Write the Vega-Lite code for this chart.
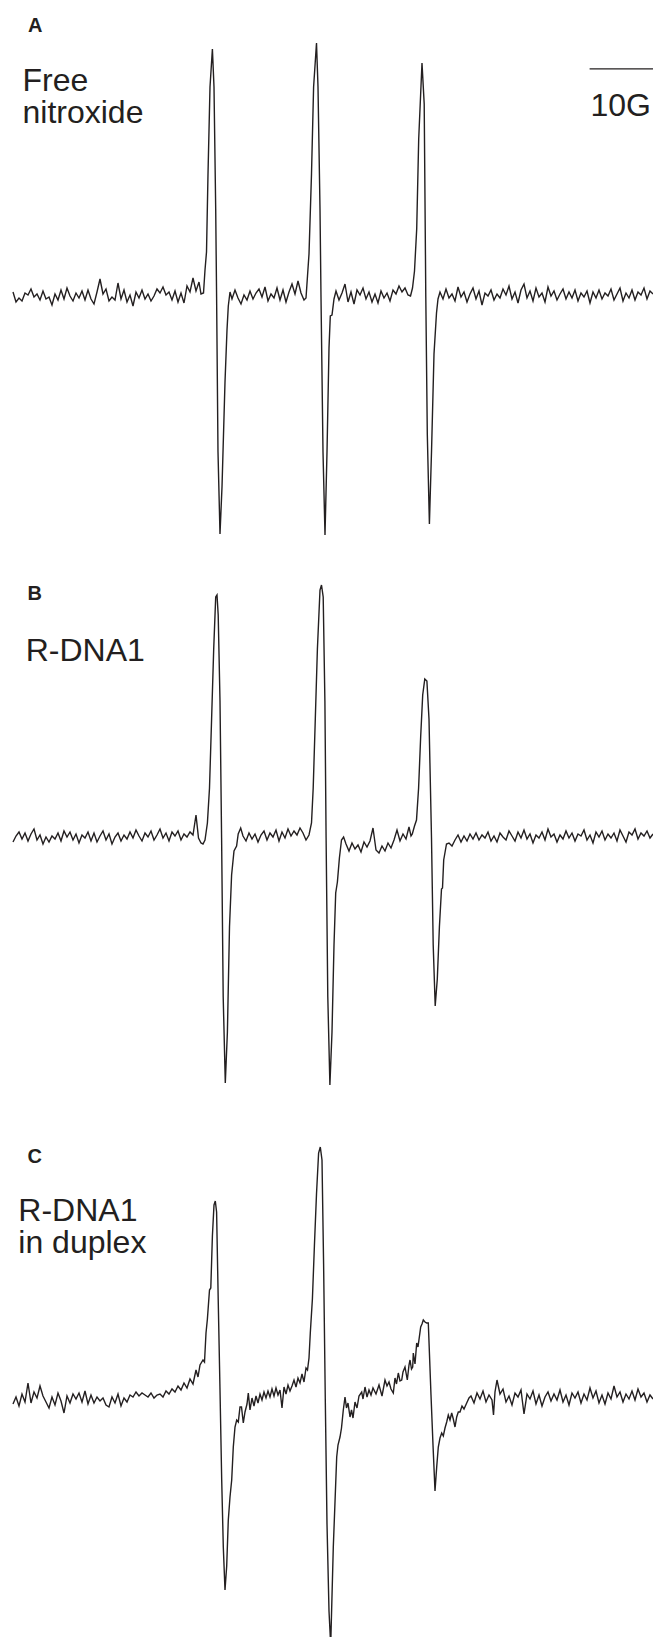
{
"$schema": "https://vega.github.io/schema/vega-lite/v6.json",
"padding": 0,
"spacing": 0,
"bounds": "flush",
"background": "white",
"config": {"view": {"stroke": null}, "concat": {"spacing": 0}},
"resolve": {"scale": {"x": "independent", "y": "independent"}},
"datasets": {
"A": [
{"x":13,"y":4},{"x":16,"y":-6},{"x":19,"y":-2},{"x":22,"y":-5},{"x":25,"y":3},{"x":28,"y":1},{"x":31,"y":7},{"x":34,"y":-1},{"x":37,"y":2},{"x":40,"y":-4},{"x":43,"y":5},{"x":46,"y":-3},{"x":49,"y":-1},{"x":52,"y":-9},{"x":55,"y":2},{"x":58,"y":-4},{"x":61,"y":6},{"x":64,"y":-3},{"x":67,"y":8},{"x":70,"y":0},{"x":73,"y":-5},{"x":76,"y":3},{"x":79,"y":-2},{"x":82,"y":5},{"x":85,"y":-4},{"x":88,"y":6},{"x":91,"y":-3},{"x":94,"y":-8},{"x":97,"y":4},{"x":100,"y":17},{"x":103,"y":2},{"x":106,"y":7},{"x":109,"y":-5},{"x":112,"y":-1},{"x":115,"y":-4},{"x":118,"y":13},{"x":121,"y":-3},{"x":124,"y":6},{"x":127,"y":-6},{"x":130,"y":1},{"x":133,"y":-10},{"x":136,"y":4},{"x":139,"y":-2},{"x":142,"y":6},{"x":145,"y":-3},{"x":148,"y":2},{"x":151,"y":-5},{"x":154,"y":0},{"x":157,"y":7},{"x":160,"y":3},{"x":163,"y":9},{"x":166,"y":1},{"x":169,"y":4},{"x":172,"y":-4},{"x":175,"y":5},{"x":178,"y":-6},{"x":181,"y":3},{"x":184,"y":-7},{"x":187,"y":10},{"x":190,"y":4},{"x":193,"y":18},{"x":196,"y":5},{"x":199,"y":14},{"x":201,"y":2},{"x":203.5,"y":3},
{"x":205,"y":26},{"x":206.5,"y":44},{"x":208,"y":122},{"x":210,"y":209},{"x":212.4,"y":247},{"x":214,"y":209},{"x":215.7,"y":87},{"x":216.6,"y":-1},{"x":218,"y":-156},{"x":220,"y":-238},{"x":222,"y":-191},{"x":225,"y":-86},{"x":227,"y":-34},{"x":228.3,"y":-10},{"x":230,"y":4},
{"x":232,"y":-3},{"x":235,"y":6},{"x":238,"y":-2},{"x":241,"y":-8},{"x":244,"y":1},{"x":247,"y":-4},{"x":250,"y":5},{"x":253,"y":-3},{"x":256,"y":3},{"x":259,"y":7},{"x":262,"y":-1},{"x":265,"y":9},{"x":268,"y":-5},{"x":271,"y":2},{"x":274,"y":-2},{"x":277,"y":8},{"x":280,"y":-4},{"x":283,"y":6},{"x":286,"y":-6},{"x":289,"y":4},{"x":292,"y":12},{"x":295,"y":2},{"x":298,"y":15},{"x":301,"y":3},{"x":304,"y":-4},{"x":306,"y":-2},
{"x":307.5,"y":20},{"x":309,"y":42},{"x":311.5,"y":122},{"x":313.6,"y":209},{"x":316.5,"y":253},{"x":318,"y":209},{"x":320,"y":87},{"x":321,"y":-1},{"x":323,"y":-156},{"x":325,"y":-239},{"x":327,"y":-156},{"x":329,"y":-52},{"x":330.3,"y":-20},{"x":332,"y":-19},{"x":334,"y":-3},
{"x":336,"y":5},{"x":339,"y":-4},{"x":342,"y":3},{"x":345,"y":12},{"x":348,"y":-6},{"x":351,"y":4},{"x":354,"y":-8},{"x":357,"y":6},{"x":360,"y":1},{"x":363,"y":8},{"x":366,"y":-3},{"x":369,"y":4},{"x":372,"y":-6},{"x":375,"y":2},{"x":378,"y":-7},{"x":381,"y":5},{"x":384,"y":-2},{"x":387,"y":3},{"x":390,"y":-5},{"x":393,"y":6},{"x":396,"y":2},{"x":399,"y":10},{"x":402,"y":4},{"x":405,"y":8},{"x":408,"y":1},{"x":410.5,"y":0},
{"x":412.5,"y":8},{"x":414.5,"y":25},{"x":416.7,"y":67},{"x":418.7,"y":157},{"x":422,"y":233},{"x":424.2,"y":192},{"x":425.8,"y":-1},{"x":427.3,"y":-138},{"x":429.4,"y":-228},{"x":431.5,"y":-156},{"x":434,"y":-58},{"x":436.5,"y":-17},{"x":438,"y":-3},
{"x":440,"y":4},{"x":443,"y":-3},{"x":446,"y":7},{"x":449,"y":-2},{"x":452,"y":2},{"x":455,"y":-5},{"x":458,"y":9},{"x":461,"y":-1},{"x":464,"y":4},{"x":467,"y":-6},{"x":470,"y":2},{"x":473,"y":8},{"x":476,"y":-3},{"x":479,"y":5},{"x":482,"y":-9},{"x":485,"y":3},{"x":488,"y":0},{"x":491,"y":6},{"x":494,"y":-4},{"x":497,"y":2},{"x":500,"y":-2},{"x":503,"y":7},{"x":506,"y":1},{"x":509,"y":10},{"x":512,"y":-3},{"x":515,"y":4},{"x":518,"y":-7},{"x":521,"y":6},{"x":524,"y":12},{"x":527,"y":-2},{"x":530,"y":5},{"x":533,"y":-5},{"x":536,"y":8},{"x":539,"y":-1},{"x":542,"y":3},{"x":545,"y":-6},{"x":548,"y":9},{"x":551,"y":0},{"x":554,"y":5},{"x":557,"y":-4},{"x":560,"y":2},{"x":563,"y":7},{"x":566,"y":-3},{"x":569,"y":4},{"x":572,"y":-2},{"x":575,"y":6},{"x":578,"y":-5},{"x":581,"y":3},{"x":584,"y":-1},{"x":587,"y":5},{"x":590,"y":-7},{"x":593,"y":4},{"x":596,"y":-2},{"x":599,"y":6},{"x":602,"y":-3},{"x":605,"y":3},{"x":608,"y":0},{"x":611,"y":7},{"x":614,"y":-4},{"x":617,"y":2},{"x":620,"y":8},{"x":623,"y":-5},{"x":626,"y":3},{"x":629,"y":-2},{"x":632,"y":6},{"x":635,"y":-4},{"x":638,"y":4},{"x":641,"y":1},{"x":644,"y":8},{"x":647,"y":-3},{"x":650,"y":5},{"x":653,"y":2}
],
"B": [
{"x":13,"y":-4},{"x":16,"y":2},{"x":19,"y":6},{"x":22,"y":-1},{"x":25,"y":5},{"x":28,"y":-3},{"x":31,"y":4},{"x":34,"y":9},{"x":37,"y":-2},{"x":40,"y":3},{"x":43,"y":-6},{"x":46,"y":1},{"x":49,"y":-4},{"x":52,"y":2},{"x":55,"y":-1},{"x":58,"y":5},{"x":61,"y":-3},{"x":64,"y":7},{"x":67,"y":1},{"x":70,"y":6},{"x":73,"y":-2},{"x":76,"y":4},{"x":79,"y":-5},{"x":82,"y":3},{"x":85,"y":0},{"x":88,"y":6},{"x":91,"y":-3},{"x":94,"y":5},{"x":97,"y":-4},{"x":100,"y":2},{"x":103,"y":7},{"x":106,"y":-2},{"x":109,"y":4},{"x":112,"y":-6},{"x":115,"y":1},{"x":118,"y":5},{"x":121,"y":-3},{"x":124,"y":3},{"x":127,"y":-1},{"x":130,"y":6},{"x":133,"y":0},{"x":136,"y":8},{"x":139,"y":2},{"x":142,"y":-3},{"x":145,"y":5},{"x":148,"y":1},{"x":151,"y":7},{"x":154,"y":-2},{"x":157,"y":3},{"x":160,"y":9},{"x":163,"y":0},{"x":166,"y":5},{"x":169,"y":-3},{"x":172,"y":6},{"x":175,"y":2},{"x":178,"y":7},{"x":181,"y":-2},{"x":184,"y":4},{"x":187,"y":1},{"x":190,"y":6},{"x":193,"y":3},{"x":196,"y":23},{"x":198.5,"y":0},{"x":201,"y":-5},{"x":203,"y":-6},
{"x":205,"y":-2},{"x":207.4,"y":15},{"x":209.5,"y":50},{"x":211.6,"y":119},{"x":213.7,"y":189},{"x":215.7,"y":241},{"x":217,"y":243},{"x":218.2,"y":223},{"x":220,"y":137},{"x":221.6,"y":0},{"x":223.2,"y":-159},{"x":225.3,"y":-245},{"x":227.4,"y":-194},{"x":229.5,"y":-89},{"x":231.6,"y":-37},{"x":234,"y":-13},{"x":236.6,"y":-8},{"x":238.2,"y":4},{"x":240.7,"y":10},
{"x":243,"y":2},{"x":246,"y":-3},{"x":249,"y":5},{"x":252,"y":-1},{"x":255,"y":4},{"x":258,"y":-4},{"x":261,"y":3},{"x":264,"y":7},{"x":267,"y":-2},{"x":270,"y":5},{"x":273,"y":1},{"x":276,"y":8},{"x":279,"y":-3},{"x":282,"y":6},{"x":285,"y":0},{"x":288,"y":9},{"x":291,"y":2},{"x":294,"y":7},{"x":297,"y":3},{"x":300,"y":10},{"x":303,"y":5},{"x":306,"y":-2},{"x":309,"y":3},
{"x":311.5,"y":15},{"x":313.2,"y":50},{"x":315.3,"y":119},{"x":317.4,"y":189},{"x":320,"y":248},{"x":321.5,"y":253},{"x":323.2,"y":241},{"x":324.9,"y":137},{"x":326.1,"y":0},{"x":327.8,"y":-159},{"x":329.9,"y":-247},{"x":332,"y":-194},{"x":334,"y":-107},{"x":335.7,"y":-55},{"x":337.4,"y":-44},{"x":339.4,"y":-20},{"x":341.5,"y":-2},{"x":343.6,"y":1},
{"x":346,"y":-6},{"x":349,"y":-13},{"x":352,"y":-5},{"x":355,"y":-11},{"x":358,"y":-7},{"x":361,"y":-14},{"x":364,"y":-4},{"x":367,"y":-9},{"x":370,"y":-3},{"x":373,"y":10},{"x":376,"y":-12},{"x":379,"y":-15},{"x":382,"y":-8},{"x":385,"y":-13},{"x":388,"y":-5},{"x":391,"y":-10},{"x":394,"y":-2},{"x":397,"y":8},{"x":400,"y":-3},{"x":403,"y":4},{"x":406,"y":-1},{"x":409,"y":11},{"x":411,"y":2},
{"x":412.3,"y":4},{"x":414.5,"y":12},{"x":416.5,"y":18},{"x":418.6,"y":50},{"x":420.7,"y":102},{"x":422.7,"y":143},{"x":424.8,"y":159},{"x":426.9,"y":157},{"x":429,"y":119},{"x":431.5,"y":0},{"x":433.2,"y":-107},{"x":435.2,"y":-168},{"x":437.3,"y":-141},{"x":439.4,"y":-89},{"x":441.5,"y":-51},{"x":442.5,"y":-50},{"x":443.7,"y":-22},{"x":446.5,"y":-6},{"x":449,"y":-5},
{"x":452,"y":-8},{"x":455,"y":-2},{"x":458,"y":3},{"x":461,"y":-4},{"x":464,"y":2},{"x":467,"y":-3},{"x":470,"y":4},{"x":473,"y":-1},{"x":476,"y":5},{"x":479,"y":-2},{"x":482,"y":3},{"x":485,"y":0},{"x":488,"y":6},{"x":491,"y":-3},{"x":494,"y":2},{"x":497,"y":-4},{"x":500,"y":5},{"x":503,"y":1},{"x":506,"y":-2},{"x":509,"y":7},{"x":512,"y":2},{"x":515,"y":-3},{"x":518,"y":6},{"x":521,"y":0},{"x":524,"y":8},{"x":527,"y":-1},{"x":530,"y":4},{"x":533,"y":-5},{"x":536,"y":3},{"x":539,"y":0},{"x":542,"y":6},{"x":545,"y":-2},{"x":548,"y":9},{"x":551,"y":1},{"x":554,"y":4},{"x":557,"y":-4},{"x":560,"y":3},{"x":563,"y":-1},{"x":566,"y":7},{"x":569,"y":0},{"x":572,"y":5},{"x":575,"y":-3},{"x":578,"y":4},{"x":581,"y":2},{"x":584,"y":8},{"x":587,"y":-2},{"x":590,"y":3},{"x":593,"y":-5},{"x":596,"y":6},{"x":599,"y":1},{"x":602,"y":7},{"x":605,"y":-2},{"x":608,"y":4},{"x":611,"y":0},{"x":614,"y":5},{"x":617,"y":-3},{"x":620,"y":8},{"x":623,"y":2},{"x":626,"y":-4},{"x":629,"y":6},{"x":632,"y":3},{"x":635,"y":9},{"x":638,"y":-1},{"x":641,"y":5},{"x":644,"y":2},{"x":647,"y":7},{"x":650,"y":0},{"x":653,"y":4}
],
"C": [
{"x":13,"y":-4},{"x":16,"y":3},{"x":19,"y":-6},{"x":22,"y":6},{"x":25,"y":-2},{"x":28,"y":17},{"x":31,"y":-3},{"x":34,"y":8},{"x":37,"y":2},{"x":40,"y":14},{"x":43,"y":4},{"x":46,"y":-2},{"x":49,"y":-8},{"x":52,"y":3},{"x":55,"y":-5},{"x":58,"y":7},{"x":61,"y":-1},{"x":64,"y":-13},{"x":67,"y":4},{"x":70,"y":-3},{"x":73,"y":6},{"x":76,"y":1},{"x":79,"y":7},{"x":82,"y":-2},{"x":85,"y":9},{"x":88,"y":-4},{"x":91,"y":5},{"x":94,"y":-3},{"x":97,"y":3},{"x":100,"y":-1},{"x":103,"y":2},{"x":106,"y":-5},{"x":109,"y":-7},{"x":112,"y":3},{"x":115,"y":-3},{"x":118,"y":6},{"x":121,"y":-6},{"x":124,"y":2},{"x":127,"y":-2},{"x":130,"y":5},{"x":133,"y":3},{"x":136,"y":8},{"x":139,"y":4},{"x":142,"y":7},{"x":145,"y":5},{"x":148,"y":3},{"x":151,"y":7},{"x":154,"y":2},{"x":157,"y":5},{"x":160,"y":6},{"x":163,"y":3},{"x":166,"y":9},{"x":169,"y":6},{"x":172,"y":11},{"x":175,"y":8},{"x":178,"y":14},{"x":181,"y":10},{"x":184,"y":17},{"x":187,"y":12},{"x":190,"y":21},{"x":193,"y":16},{"x":196,"y":30},{"x":198,"y":23},{"x":200,"y":35},{"x":203,"y":40},
{"x":204.5,"y":38},{"x":206,"y":67},{"x":207.4,"y":81},{"x":209.5,"y":110},{"x":210.8,"y":112},{"x":212.4,"y":164},{"x":214,"y":195},{"x":215.3,"y":199},{"x":216.6,"y":188},{"x":218.2,"y":101},{"x":220,"y":10},{"x":221.7,"y":-80},{"x":223.3,"y":-147},{"x":225,"y":-190},{"x":226.7,"y":-166},{"x":228.3,"y":-120},{"x":230,"y":-97},{"x":231.7,"y":-80},{"x":233.3,"y":-47},{"x":235,"y":-27},{"x":236.7,"y":-20},{"x":238.3,"y":-22},{"x":240,"y":-7},
{"x":241.5,"y":-7},{"x":243.3,"y":-23},{"x":245,"y":-12},{"x":247,"y":-4},{"x":248.3,"y":7},{"x":250,"y":-10},{"x":252,"y":2},{"x":254,"y":-6},{"x":256,"y":4},{"x":258,"y":-3},{"x":260,"y":6},{"x":262,"y":0},{"x":264,"y":8},{"x":266,"y":2},{"x":268,"y":9},{"x":270,"y":3},{"x":272,"y":11},{"x":274,"y":4},{"x":276,"y":12},{"x":278,"y":5},{"x":280,"y":10},{"x":282,"y":-8},{"x":284,"y":13},{"x":286,"y":6},{"x":288,"y":15},{"x":290,"y":9},{"x":292,"y":14},{"x":294,"y":20},{"x":296,"y":13},{"x":298,"y":22},{"x":300,"y":17},{"x":302,"y":26},{"x":304,"y":18},{"x":306,"y":32},{"x":307.5,"y":30},{"x":309,"y":42},
{"x":310.3,"y":67},{"x":312.4,"y":101},{"x":314.4,"y":154},{"x":316.5,"y":206},{"x":318.6,"y":247},{"x":320.3,"y":253},{"x":322,"y":240},{"x":323.6,"y":136},{"x":325.3,"y":0},{"x":327,"y":-124},{"x":329,"y":-211},{"x":330.7,"y":-245},{"x":333.3,"y":-147},{"x":336.7,"y":-57},{"x":338,"y":-45},{"x":340,"y":-37},{"x":341.5,"y":-28},{"x":343.3,"y":-10},{"x":345,"y":3},{"x":346.5,"y":-8},{"x":348,"y":-3},{"x":350,"y":-17},{"x":351.5,"y":-10},{"x":353,"y":-18},{"x":355,"y":-2},{"x":357,"y":-8},{"x":359,"y":4},{"x":361.7,"y":8},{"x":363,"y":1},{"x":365,"y":13},{"x":367,"y":3},{"x":369,"y":10},{"x":371,"y":5},
{"x":373,"y":12},{"x":376,"y":6},{"x":379,"y":15},{"x":382,"y":4},{"x":385,"y":20},{"x":387,"y":14},{"x":389,"y":18},{"x":391,"y":11},{"x":393.3,"y":7},{"x":395,"y":22},{"x":396.5,"y":16},{"x":398.3,"y":27},{"x":400,"y":19},{"x":401.7,"y":20},{"x":403,"y":28},{"x":405,"y":33},{"x":407.3,"y":20},{"x":409,"y":35},{"x":410,"y":40},{"x":411.5,"y":31},{"x":412.7,"y":33},{"x":413.3,"y":47},{"x":415,"y":36},{"x":416.7,"y":57},{"x":418,"y":53},{"x":420.7,"y":73},{"x":422,"y":76},{"x":423.3,"y":80},{"x":425,"y":78},{"x":426.7,"y":77},{"x":428.3,"y":77},{"x":431,"y":5},{"x":433,"y":-45},{"x":435,"y":-91},{"x":436.7,"y":-67},{"x":438.3,"y":-47},{"x":440,"y":-38},{"x":441.7,"y":-33},{"x":443.3,"y":-36},{"x":445,"y":-28},{"x":446.7,"y":-22},{"x":448.3,"y":-15},{"x":450,"y":-20},{"x":451.7,"y":-13},{"x":453.3,"y":-19},{"x":455,"y":-27},{"x":456.7,"y":-17},{"x":458.3,"y":-12},{"x":460,"y":-12},{"x":462,"y":-6},{"x":464,"y":-9},{"x":466.7,"y":-3},{"x":469,"y":2},
{"x":471,"y":4},{"x":474,"y":-3},{"x":477,"y":7},{"x":480,"y":1},{"x":483,"y":9},{"x":486,"y":-2},{"x":489,"y":5},{"x":492,"y":0},{"x":493.5,"y":-15},{"x":495,"y":8},{"x":497,"y":20},{"x":500,"y":6},{"x":503,"y":11},{"x":506,"y":-2},{"x":509,"y":4},{"x":512,"y":-5},{"x":515,"y":7},{"x":518,"y":3},{"x":521,"y":10},{"x":524,"y":-14},{"x":527,"y":6},{"x":530,"y":1},{"x":533,"y":9},{"x":536,"y":-4},{"x":539,"y":5},{"x":542,"y":-6},{"x":545,"y":3},{"x":548,"y":8},{"x":551,"y":-1},{"x":554,"y":6},{"x":557,"y":0},{"x":560,"y":10},{"x":563,"y":-2},{"x":566,"y":5},{"x":569,"y":-5},{"x":572,"y":7},{"x":575,"y":2},{"x":578,"y":8},{"x":581,"y":-3},{"x":584,"y":6},{"x":587,"y":0},{"x":590,"y":12},{"x":593,"y":2},{"x":596,"y":9},{"x":599,"y":-3},{"x":602,"y":5},{"x":605,"y":-4},{"x":608,"y":7},{"x":611,"y":1},{"x":614,"y":14},{"x":617,"y":3},{"x":620,"y":8},{"x":623,"y":-2},{"x":626,"y":6},{"x":629,"y":1},{"x":632,"y":9},{"x":635,"y":0},{"x":638,"y":11},{"x":641,"y":3},{"x":644,"y":7},{"x":647,"y":-2},{"x":650,"y":5},{"x":653,"y":1}
]
},
"vconcat": [
{
"width": 653, "height": 545,
"encoding": {
"x": {"field": "x", "type": "quantitative", "scale": {"domain": [0, 653], "nice": false, "zero": false}, "axis": null},
"y": {"field": "y", "type": "quantitative", "scale": {"domain": [-249, 296], "nice": false, "zero": false}, "axis": null}
},
"layer": [
{"data": {"name": "A"}, "mark": {"type": "line", "stroke": "#231f20", "strokeWidth": 1.4, "clip": true}},
{"data": {"values": [{"x": 28, "y": 264.5, "t": "A"}]}, "mark": {"type": "text", "align": "left", "baseline": "alphabetic", "font": "Liberation Sans", "fontSize": 20, "fontWeight": "bold", "color": "#231f20"}, "encoding": {"text": {"field": "t"}}},
{"data": {"values": [{"x": 22.5, "y": 205, "t": "Free\nnitroxide"}, {"x": 590.5, "y": 179.6, "t": "10G"}]}, "mark": {"type": "text", "align": "left", "baseline": "alphabetic", "lineBreak": "\n", "lineHeight": 32, "font": "Liberation Sans", "fontSize": 32, "color": "#231f20"}, "encoding": {"text": {"field": "t"}}},
{"data": {"values": [{"x": 589.6, "x2": 653, "y": 227.2}]}, "mark": {"type": "rule", "stroke": "#231f20", "strokeWidth": 1.3}, "encoding": {"x2": {"field": "x2"}}}
]
},
{
"width": 653, "height": 545,
"encoding": {
"x": {"field": "x", "type": "quantitative", "scale": {"domain": [0, 653], "nice": false, "zero": false}, "axis": null},
"y": {"field": "y", "type": "quantitative", "scale": {"domain": [-252, 293], "nice": false, "zero": false}, "axis": null}
},
"layer": [
{"data": {"name": "B"}, "mark": {"type": "line", "stroke": "#231f20", "strokeWidth": 1.4, "clip": true}},
{"data": {"values": [{"x": 27.5, "y": 238, "t": "B"}]}, "mark": {"type": "text", "align": "left", "baseline": "alphabetic", "font": "Liberation Sans", "fontSize": 20, "fontWeight": "bold", "color": "#231f20"}, "encoding": {"text": {"field": "t"}}},
{"data": {"values": [{"x": 25.7, "y": 177.3, "t": "R-DNA1"}]}, "mark": {"type": "text", "align": "left", "baseline": "alphabetic", "font": "Liberation Sans", "fontSize": 32, "color": "#231f20"}, "encoding": {"text": {"field": "t"}}}
]
},
{
"width": 653, "height": 547,
"encoding": {
"x": {"field": "x", "type": "quantitative", "scale": {"domain": [0, 653], "nice": false, "zero": false}, "axis": null},
"y": {"field": "y", "type": "quantitative", "scale": {"domain": [-237, 310], "nice": false, "zero": false}, "axis": null}
},
"layer": [
{"data": {"name": "C"}, "mark": {"type": "line", "stroke": "#231f20", "strokeWidth": 1.4, "clip": true}},
{"data": {"values": [{"x": 27.5, "y": 237, "t": "C"}]}, "mark": {"type": "text", "align": "left", "baseline": "alphabetic", "font": "Liberation Sans", "fontSize": 20, "fontWeight": "bold", "color": "#231f20"}, "encoding": {"text": {"field": "t"}}},
{"data": {"values": [{"x": 18.3, "y": 178.6, "t": "R-DNA1\nin duplex"}]}, "mark": {"type": "text", "align": "left", "baseline": "alphabetic", "lineBreak": "\n", "lineHeight": 31.5, "font": "Liberation Sans", "fontSize": 32, "color": "#231f20"}, "encoding": {"text": {"field": "t"}}}
]
}
]
}
